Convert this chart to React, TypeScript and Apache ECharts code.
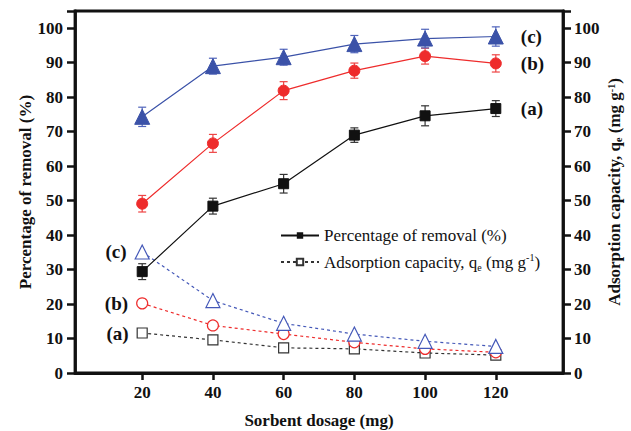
import React, { useEffect, useRef } from "react";
import * as echarts from "echarts";

const doses = [20, 40, 60, 80, 100, 120];
const xTicks = [20, 40, 60, 80, 100, 120];
const removalA = [29.4, 48.4, 54.9, 69.0, 74.6, 76.7];
const removalB = [49.1, 66.6, 81.9, 87.7, 91.9, 89.8];
const removalC = [74.3, 89.0, 91.6, 95.4, 97.0, 97.6];
const errA = [2.3, 2.3, 2.7, 2.1, 2.9, 2.3];
const errB = [2.4, 2.6, 2.6, 2.2, 2.3, 2.5];
const errC = [2.8, 2.3, 2.3, 2.5, 2.7, 2.8];
const capA = [11.6, 9.6, 7.3, 7.0, 5.8, 5.2];
const capB = [20.2, 13.8, 11.3, 8.9, 7.0, 6.0];
const capC = [35.1, 21.0, 14.4, 11.3, 9.2, 7.7];
const curveLabels = ["(a)", "(b)", "(c)"];
const legendNames = ["Percentage of removal (%)", "Adsorption capacity, qe (mg g-1)"];

const FONT = "'Liberation Serif', 'Times New Roman', serif";
const BLACK = "#111111";
const RED = "#ee2c2c";
const BLUE = "#3b52a8";

const pairs = (vals: number[]) => doses.map((d, i) => [d, vals[i]]);

const errData = (vals: number[], errs: number[]) =>
  doses.map((d, i) => [d, vals[i] - errs[i], vals[i] + errs[i]]);

const errSeries = (vals: number[], errs: number[], color: string) => ({
  type: "custom",
  yAxisIndex: 0,
  z: 1,
  silent: true,
  encode: { x: 0, y: [1, 2] },
  data: errData(vals, errs),
  renderItem: (params: any, api: any) => {
    const x = api.value(0);
    const lo = api.coord([x, api.value(1)]);
    const hi = api.coord([x, api.value(2)]);
    const w = 4;
    const style = { stroke: color, lineWidth: 1.2 };
    return {
      type: "group",
      children: [
        { type: "line", shape: { x1: lo[0], y1: lo[1], x2: hi[0], y2: hi[1] }, style },
        { type: "line", shape: { x1: lo[0] - w, y1: lo[1], x2: lo[0] + w, y2: lo[1] }, style },
        { type: "line", shape: { x1: hi[0] - w, y1: hi[1], x2: hi[0] + w, y2: hi[1] }, style },
      ],
    };
  },
});

const capSeries = (name: string, vals: number[], color: string, symbol: string, size: number, label: string) => ({
  name,
  type: "line",
  yAxisIndex: 1,
  z: 3,
  symbol,
  symbolSize: size,
  showAllSymbol: true,
  lineStyle: { color, width: 1.2, type: [3, 3] },
  itemStyle: { color: "#ffffff", borderColor: color, borderWidth: 1.2 },
  data: pairs(vals).map((p, i) =>
    i === 0
      ? {
          value: p,
          label: {
            show: true,
            position: "left",
            distance: 8,
            formatter: label,
            color: BLACK,
            fontFamily: FONT,
            fontWeight: "bold",
            fontSize: 19,
          },
        }
      : p
  ),
});

const remSeries = (name: string, vals: number[], color: string, symbol: string, size: number, label: string) => ({
  name,
  type: "line",
  yAxisIndex: 0,
  z: 4,
  symbol,
  symbolSize: size,
  lineStyle: { color, width: 1.2 },
  itemStyle: { color, borderColor: color },
  endLabel: {
    show: true,
    formatter: label,
    distance: 25,
    color: BLACK,
    fontFamily: FONT,
    fontWeight: "bold",
    fontSize: 19,
  },
  data: pairs(vals),
});

export default function App() {
  const ref = useRef<HTMLDivElement>(null);
  useEffect(() => {
    if (!ref.current) return;
    const chart = echarts.init(ref.current, null, { renderer: "svg" });
    const axisLine = { show: true, lineStyle: { color: BLACK, width: 2.8 } };
    const tickLabel = { color: BLACK, fontFamily: FONT, fontWeight: "bold", fontSize: 17 };
    const nameStyle = { color: BLACK, fontFamily: FONT, fontWeight: "bold", fontSize: 17 };
    chart.setOption({
      animation: false,
      backgroundColor: "#ffffff",
      grid: {
        left: 75,
        right: 68,
        top: 11,
        bottom: 58,
        containLabel: false,
        outerBoundsMode: "none",
        show: true,
        borderColor: BLACK,
        borderWidth: 2.8,
      },
      legend: {
        data: legendNames,
        orient: "vertical",
        left: 275,
        top: 222,
        itemWidth: 38,
        itemHeight: 8,
        itemGap: 8,
        textStyle: {
          color: BLACK,
          fontFamily: FONT,
          fontSize: 17,
          rich: {
            n: { fontFamily: FONT, fontSize: 17, lineHeight: 20, color: BLACK },
            sub: { fontFamily: FONT, fontSize: 10, lineHeight: 10, verticalAlign: "bottom", color: BLACK },
            sup: { fontFamily: FONT, fontSize: 10, lineHeight: 10, verticalAlign: "top", color: BLACK },
          },
        },
        formatter: (name: string) =>
          name === legendNames[1]
            ? "{n|Adsorption capacity, q}{sub|e}{n| (mg g}{sup|-1}{n|)}"
            : "{n|" + name + "}",
      },
      xAxis: [
        {
          type: "value",
          min: 1,
          max: 139,
          position: "bottom",
          name: "Sorbent dosage (mg)",
          nameLocation: "middle",
          nameGap: 39,
          nameMoveOverlap: false,
          nameTextStyle: nameStyle,
          axisLine,
          splitLine: { show: false },
          axisTick: { show: true, inside: false, length: 7, customValues: xTicks, lineStyle: { color: BLACK, width: 2.5 } },
          axisLabel: { ...tickLabel, margin: 11, customValues: xTicks },
        },
      ],
      yAxis: [
        {
          type: "value",
          min: 0,
          max: 105,
          interval: 10,
          position: "left",
          name: "Percentage of removal (%)",
          nameLocation: "middle",
          nameRotate: 90,
          nameGap: 41,
          nameMoveOverlap: false,
          nameTextStyle: nameStyle,
          axisLine,
          splitLine: { show: false },
          axisTick: { show: true, inside: false, length: 8, lineStyle: { color: BLACK, width: 2.5 } },
          axisLabel: { ...tickLabel, margin: 12, formatter: (v: number) => (v > 100 ? "" : String(v)) },
        },
        {
          type: "value",
          min: 0,
          max: 105,
          interval: 10,
          position: "right",
          name: "Adsorption capacity, q{sub|e} (mg g{sup|-1})",
          nameLocation: "middle",
          nameRotate: 90,
          nameGap: 43,
          nameMoveOverlap: false,
          nameTextStyle: {
            ...nameStyle,
            rich: {
              sub: { fontFamily: FONT, fontWeight: "bold", fontSize: 10, verticalAlign: "bottom", lineHeight: 10, color: BLACK },
              sup: { fontFamily: FONT, fontWeight: "bold", fontSize: 10, verticalAlign: "top", lineHeight: 10, color: BLACK },
            },
          },
          axisLine,
          splitLine: { show: false },
          axisTick: { show: true, inside: false, length: 8, lineStyle: { color: BLACK, width: 2.5 } },
          axisLabel: { ...tickLabel, margin: 11, formatter: (v: number) => (v > 100 ? "" : String(v)) },
        },
      ],
      series: [
        errSeries(removalA, errA, "#333333"),
        errSeries(removalB, errB, "#ee4444"),
        errSeries(removalC, errC, "#5064bb"),
        remSeries(legendNames[0], removalA, BLACK, "rect", 10, curveLabels[0]),
        remSeries("Removal (b)", removalB, RED, "circle", 11, curveLabels[1]),
        remSeries("Removal (c)", removalC, BLUE, "triangle", 15, curveLabels[2]),
        capSeries(legendNames[1], capA, "#333333", "rect", 10, curveLabels[0]),
        capSeries("Capacity (b)", capB, RED, "circle", 11, curveLabels[1]),
        capSeries("Capacity (c)", capC, "#4458b8", "triangle", 14, curveLabels[2]),
      ],
    });
    return () => chart.dispose();
  }, []);
  return <div ref={ref} style={{ position: "fixed", left: 0, top: 0, width: 631, height: 431 }} />;
}
